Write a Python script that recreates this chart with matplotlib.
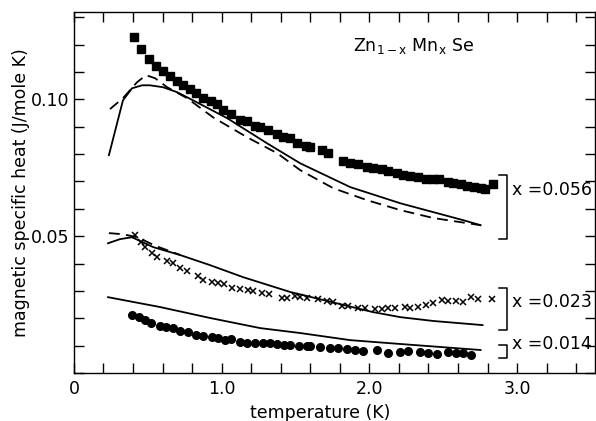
import numpy as np
import matplotlib.pyplot as plt
from matplotlib.ticker import MultipleLocator, FixedLocator

# x = 0.056 : squares
T_sq = [0.407, 0.454, 0.508, 0.556, 0.603, 0.651, 0.698, 0.739, 0.786, 0.827,
        0.875, 0.929, 0.969, 1.010, 1.064, 1.125, 1.173, 1.227, 1.261, 1.315,
        1.376, 1.417, 1.464, 1.512, 1.573, 1.600, 1.681, 1.722, 1.824, 1.871,
        1.925, 1.986, 2.027, 2.088, 2.129, 2.190, 2.231, 2.278, 2.332, 2.380,
        2.434, 2.468, 2.529, 2.569, 2.617, 2.664, 2.705, 2.753, 2.786, 2.834]
C_sq = [0.1226, 0.1182, 0.1146, 0.1120, 0.1102, 0.1084, 0.1066, 0.1051, 0.1036, 0.1022,
        0.1004, 0.0993, 0.0982, 0.0960, 0.0945, 0.0923, 0.0920, 0.0901, 0.0898, 0.0887,
        0.0872, 0.0861, 0.0858, 0.0839, 0.0828, 0.0825, 0.0814, 0.0803, 0.0774, 0.0766,
        0.0763, 0.0752, 0.0748, 0.0745, 0.0737, 0.0730, 0.0723, 0.0719, 0.0715, 0.0708,
        0.0708, 0.0708, 0.0697, 0.0693, 0.0690, 0.0682, 0.0679, 0.0675, 0.0672, 0.0690]

T_sq_fit = [0.237, 0.332, 0.393, 0.461, 0.515, 0.603, 0.698, 0.807, 1.037, 1.308,
            1.532, 1.871, 2.210, 2.637, 2.753]
C_sq_fit = [0.0796, 0.0996, 0.1040, 0.1051, 0.1051, 0.1044, 0.1026, 0.0996, 0.0931, 0.0839,
            0.0766, 0.0679, 0.0620, 0.0558, 0.0540]

T_sq_dash = [0.244, 0.332, 0.427, 0.488, 0.549, 0.631, 0.766, 0.942, 1.173, 1.376,
             1.532, 1.756, 1.986, 2.210, 2.434, 2.753]
C_sq_dash = [0.0964, 0.1004, 0.1062, 0.1088, 0.1077, 0.1044, 0.1004, 0.0934, 0.0861, 0.0803,
             0.0741, 0.0675, 0.0631, 0.0595, 0.0566, 0.0540]

# x = 0.023 : crosses
T_cr = [0.414, 0.454, 0.481, 0.529, 0.563, 0.631, 0.671, 0.719, 0.766, 0.841,
        0.875, 0.936, 0.976, 1.017, 1.071, 1.125, 1.180, 1.214, 1.275, 1.322,
        1.410, 1.444, 1.498, 1.532, 1.580, 1.654, 1.715, 1.756, 1.817, 1.858,
        1.925, 1.973, 2.041, 2.088, 2.129, 2.176, 2.244, 2.278, 2.332, 2.380,
        2.434, 2.495, 2.529, 2.583, 2.631, 2.685, 2.732, 2.827]
C_cr = [0.0504, 0.0478, 0.0460, 0.0438, 0.0423, 0.0409, 0.0401, 0.0383, 0.0372, 0.0354,
        0.0339, 0.0332, 0.0328, 0.0325, 0.0310, 0.0307, 0.0303, 0.0299, 0.0292, 0.0288,
        0.0274, 0.0274, 0.0281, 0.0277, 0.0274, 0.0270, 0.0263, 0.0259, 0.0245, 0.0245,
        0.0237, 0.0237, 0.0234, 0.0234, 0.0237, 0.0237, 0.0241, 0.0237, 0.0241, 0.0248,
        0.0255, 0.0266, 0.0263, 0.0263, 0.0259, 0.0277, 0.0270, 0.0270]

T_cr_fit = [0.231, 0.312, 0.393, 0.536, 0.719, 0.922, 1.146, 1.464, 2.020, 2.210, 2.434, 2.766]
C_cr_fit = [0.0474, 0.0489, 0.0496, 0.0460, 0.0431, 0.0394, 0.0350, 0.0296, 0.0223, 0.0204, 0.0190, 0.0175]

T_cr_dash = [0.237, 0.330, 0.430, 0.550, 0.720]
C_cr_dash = [0.0511, 0.0507, 0.0496, 0.0465, 0.0431]

# x = 0.014 : circles
T_ci = [0.393, 0.441, 0.481, 0.522, 0.583, 0.624, 0.671, 0.719, 0.773, 0.827,
        0.875, 0.936, 0.976, 1.024, 1.064, 1.125, 1.173, 1.227, 1.281, 1.329,
        1.376, 1.424, 1.464, 1.525, 1.580, 1.600, 1.668, 1.736, 1.790, 1.851,
        1.905, 1.959, 2.054, 2.129, 2.210, 2.264, 2.346, 2.400, 2.461, 2.529,
        2.583, 2.631, 2.685]
C_ci = [0.0212, 0.0204, 0.0193, 0.0182, 0.0172, 0.0168, 0.0164, 0.0153, 0.0150, 0.0139,
        0.0135, 0.0131, 0.0128, 0.0120, 0.0124, 0.0113, 0.0109, 0.0109, 0.0109, 0.0109,
        0.0106, 0.0102, 0.0102, 0.0099, 0.0099, 0.0099, 0.0095, 0.0091, 0.0091, 0.0088,
        0.0084, 0.0080, 0.0084, 0.0073, 0.0077, 0.0080, 0.0077, 0.0073, 0.0069, 0.0077,
        0.0073, 0.0073, 0.0066]

T_ci_fit = [0.231, 0.583, 0.922, 1.261, 1.532, 1.871, 2.210, 2.753]
C_ci_fit = [0.0277, 0.0241, 0.0201, 0.0164, 0.0146, 0.0120, 0.0106, 0.0084]

# brackets
br_T = 2.93
br_top = [0.0723, 0.0310, 0.0102]
br_bot = [0.0489, 0.0157, 0.0055]
br_lab_C = [0.0668, 0.0259, 0.0106]
br_labels = ['x =0.056', 'x =0.023', 'x =0.014']

narrow = ['DejaVu Sans Condensed', 'Liberation Sans Narrow', 'DejaVu Sans']

fig = plt.figure(figsize=(5.96, 4.21), dpi=100)
ax = fig.add_axes([0.124, 0.114, 0.875, 0.857])

lw = 1.3
ax.plot(T_sq, C_sq, 's', color='black', ms=6)
ax.plot(T_sq_fit, C_sq_fit, '-', color='black', lw=lw)
ax.plot(T_sq_dash, C_sq_dash, '--', color='black', lw=lw, dashes=(6, 3.5))

ax.plot(T_cr, C_cr, 'x', color='black', ms=5, mew=1.1)
ax.plot(T_cr_fit, C_cr_fit, '-', color='black', lw=lw)
ax.plot(T_cr_dash, C_cr_dash, '--', color='black', lw=lw, dashes=(6, 3.5))

ax.plot(T_ci, C_ci, 'o', color='black', ms=5.5)
ax.plot(T_ci_fit, C_ci_fit, '-', color='black', lw=lw)

for top, bot, lc, lab in zip(br_top, br_bot, br_lab_C, br_labels):
    ax.plot([br_T - 0.05, br_T, br_T, br_T - 0.05], [top, top, bot, bot],
            color='black', lw=1.1)
    ax.text(br_T + 0.035, lc, lab, fontsize=12.5, va='center', ha='left',
            family=narrow)

ax.text(1.89, 0.1195, r'Zn$_{\mathregular{1-x}}$ Mn$_{\mathregular{x}}$ Se',
        fontsize=12.5, ha='left', va='center', family=narrow)

ax.set_xlim(0, 3.53)
ax.set_ylim(0, 0.1318)
ax.xaxis.set_major_locator(FixedLocator([0, 1, 2, 3]))
ax.set_xticklabels(['0', '1.0', '2.0', '3.0'], family=narrow)
ax.xaxis.set_minor_locator(MultipleLocator(0.2))
ax.yaxis.set_major_locator(FixedLocator([0.05, 0.10]))
ax.set_yticklabels(['0.05', '0.10'], family=narrow)
ax.yaxis.set_minor_locator(MultipleLocator(0.01))
ax.tick_params(which='both', direction='in', length=7, width=1.0,
               top=True, right=True, labelsize=12.5)
ax.tick_params(axis='x', pad=5)
for s in ax.spines.values():
    s.set_linewidth(1.0)

ax.set_xlabel('temperature (K)', fontsize=12.5, family=narrow)
ax.xaxis.set_label_coords(0.472, -0.085)
ax.set_ylabel('magnetic specific heat (J/mole K)', fontsize=12.5, family=narrow)
ax.yaxis.set_label_coords(-0.085, 0.5)

fig.savefig('out.png', dpi=100)
